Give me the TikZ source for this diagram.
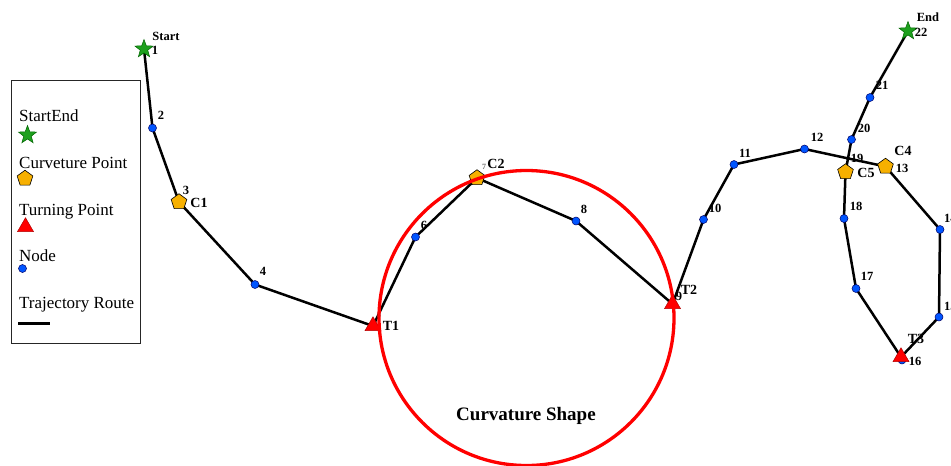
\documentclass[tikz,border=0pt]{standalone}
\usepackage{fontspec}
\setmainfont{Liberation Serif}
\usetikzlibrary{shapes.geometric}
\definecolor{stargreen}{RGB}{30,160,30}
\definecolor{pentorange}{RGB}{247,176,0}
\definecolor{nodeblue}{RGB}{0,85,255}
\begin{document}
\begin{tikzpicture}[x=1pt,y=-1pt,
  route/.style={line width=2.5pt, black, line join=round},
  dot/.style={circle, fill=nodeblue, draw=black!60!blue, line width=0.5pt, minimum size=8pt, inner sep=0pt},
  pent/.style={regular polygon, regular polygon sides=5, fill=pentorange, draw=black, line width=0.6pt, minimum size=16.5pt, inner sep=0pt},
  tri/.style={regular polygon, regular polygon sides=3, fill=red, draw=red!70!black, line width=0.5pt, minimum size=18.5pt, inner sep=0pt},
  stars/.style={star, star points=5, star point ratio=2.4, fill=stargreen, draw=black!60!green, line width=0.5pt, minimum size=19pt, inner sep=0pt},
  num/.style={font=\fontsize{12.5}{12.5}\selectfont\bfseries, inner sep=0pt},
  tiny/.style={font=\fontsize{8}{8}\selectfont\bfseries, text=black!55, inner sep=0pt},
  tag/.style={font=\fontsize{14}{14}\selectfont\bfseries, inner sep=0pt},
  leg/.style={font=\fontsize{17}{17}\selectfont, anchor=base west, inner sep=0pt},
  bigtxt/.style={font=\fontsize{19}{19}\selectfont\bfseries, inner sep=0pt},
  ring/.style={draw=red, line width=3.3pt}]
\clip (0,0) rectangle (951,466);
\fill[white] (0,0) rectangle (951,466);

% positions
\coordinate (p1) at (144,49);
\coordinate (p2) at (152.5,128);
\coordinate (p3) at (179,202);
\coordinate (p4) at (255,284.5);
\coordinate (p5) at (373,326);
\coordinate (p6) at (415.5,237);
\coordinate (p7) at (477,178);
\coordinate (p8) at (576,221);
\coordinate (p9) at (672.5,304);
\coordinate (p10) at (703.5,219.5);
\coordinate (p11) at (734,164.5);
\coordinate (p12) at (804.5,149);
\coordinate (p13) at (885.5,166.5);
\coordinate (p14) at (940,229.5);
\coordinate (p15) at (939,317);
\coordinate (p16) at (901,357);
\coordinate (p17) at (856,288.5);
\coordinate (p18) at (844,218.5);
\coordinate (p19) at (845.5,172);
\coordinate (p20) at (851.5,139.5);
\coordinate (p21) at (870,97.5);
\coordinate (p22) at (908,31);

% route
\draw[route] (p1) -- (p2) -- (p3) -- (p4) -- (p5) -- (p6) -- (p7) -- (p8) -- (p9)
  -- (p10) -- (p11) -- (p12) -- (p13) -- (p14) -- (p15) -- (p16) -- (p17) -- (p18)
  -- (p19) -- (p20) -- (p21) -- (p22);

% markers
\node[stars] (n1) at (p1) {};
\node[dot] (n2) at (p2) {};
\node[pent] (n3) at (p3) {};
\node[dot] (n4) at (p4) {};
\node[tri] (n5) at (p5) {};
\node[dot] (n6) at (p6) {};
\node[pent] (n7) at (p7) {};
\node[dot] (n8) at (p8) {};
\node[tri] (n9) at (p9) {};
\node[dot] (n10) at (p10) {};
\node[dot] (n11) at (p11) {};
\node[dot] (n12) at (p12) {};
\node[pent] (n13) at (p13) {};
\node[dot] (n14) at (p14) {};
\node[dot] (n15) at (p15) {};
\node[dot] (n16b) at (902,360) {};
\node[tri] (n16) at (p16) {};
\node[dot] (n17) at (p17) {};
\node[dot] (n18) at (p18) {};
\node[pent] (n19) at (p19) {};
\node[dot] (n20) at (p20) {};
\node[dot] (n21) at (p21) {};
\node[stars] (n22) at (p22) {};

% small labels hidden under the ring
\node[tiny] (l5) at (379,315) {5};
\node[tiny] (l7) at (484,167) {7};

% curvature circle
\node[circle, ring, minimum size=295pt, inner sep=0pt] (ringc) at (526.5,318) {};
\node[bigtxt] (cs) at (526,416) {Curvature Shape};

% labels
\node[num] (lstart) at (166,36) {Start};
\node[num] (l1) at (155,50) {1};
\node[num] (l2) at (161,115) {2};
\node[num] (l3) at (186,190) {3};
\node[tag] (c1) at (199,203) {C1};
\node[num] (l4) at (263,271) {4};
\node[tag] (t1) at (391,326) {T1};
\node[num] (l6) at (424,225) {6};
\node[tag] (c2) at (496,164) {C2};
\node[num] (l8) at (584,209) {8};
\node[num] (l9) at (679,296) {9};
\node[tag] (t2) at (689,290) {T2};
\node[num] (l10) at (715,208) {10};
\node[num] (l11) at (745,153) {11};
\node[num] (l12) at (817,137) {12};
\node[num] (l13) at (902,168) {13};
\node[tag] (c4) at (903,151) {C4};
\node[num, anchor=west] (l14) at (944,218) {14};
\node[num, anchor=west] (l15) at (944,306) {15};
\node[num] (l16) at (915,361) {16};
\node[tag] (t3) at (916,339) {T3};
\node[num] (l17) at (867,276) {17};
\node[num] (l18) at (856,206) {18};
\node[num] (l19) at (857,158) {19};
\node[tag] (c5) at (866,173) {C5};
\node[num] (l20) at (864,128) {20};
\node[num] (l21) at (882,85) {21};
\node[num] (l22) at (921,32) {22};
\node[num] (lend) at (928,17) {End};

% legend
\node[draw=black!85, line width=1pt, minimum width=129pt, minimum height=263pt, inner sep=0pt, anchor=north west] (legbox) at (11,80) {};
\node[leg] (g1) at (19,121) {StartEnd};
\node[stars] (gs) at (27.5,135) {};
\node[leg] (g2) at (19,168) {Curveture Point};
\node[pent] (gp) at (25,178.5) {};
\node[leg] (g3) at (19,215) {Turning Point};
\node[tri] (gt) at (25.5,227) {};
\node[leg] (g4) at (19,261) {Node};
\node[dot] (gd) at (22.5,268.5) {};
\node[leg] (g5) at (19,308) {Trajectory Route};
\coordinate (gl1) at (18,323.5);
\coordinate (gl2) at (49.5,323.5);
\draw[line width=2.5pt] (gl1) -- (gl2);
\end{tikzpicture}
\end{document}
